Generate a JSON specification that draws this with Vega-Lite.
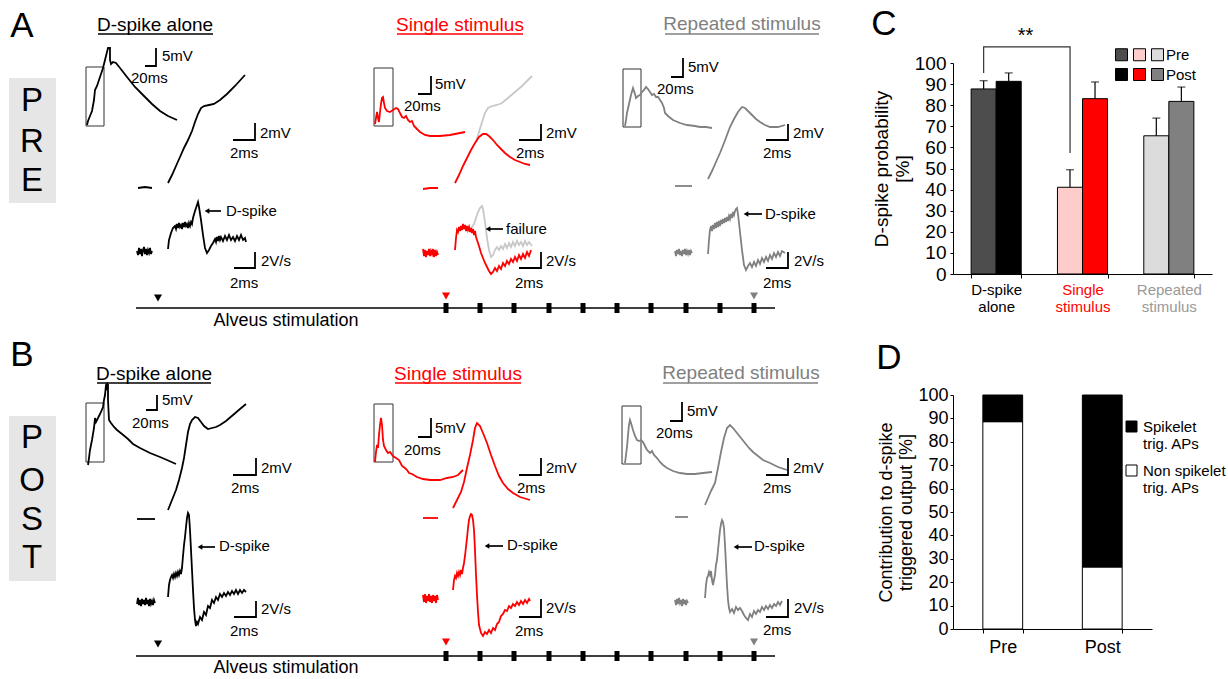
{
"$schema": "https://vega.github.io/schema/vega-lite/v6.json",
"padding": 0,
"background": "white",
"bounds": "flush",
"spacing": 103,
"resolve": {"scale": {"color": "independent"}, "legend": {"color": "independent"}},
"config": {
  "view": {"stroke": null},
  "font": "Liberation Sans",
  "text": {"font": "Liberation Sans"},
  "axis": {"labelFont": "Liberation Sans", "titleFont": "Liberation Sans", "labelColor": "black", "titleColor": "black"},
  "legend": {"labelFont": "Liberation Sans", "labelColor": "black"}
},
"datasets": {
"bg": [{"x":9,"y":78,"x2":56,"y2":203},{"x":9,"y":416,"x2":56,"y2":581}],
"bx": [{"x":86,"y":67,"x2":104,"y2":126},{"x":374,"y":68,"x2":393,"y2":126},{"x":623,"y":69,"x2":641,"y2":127},{"x":86,"y":403,"x2":104,"y2":462},{"x":374,"y":404,"x2":393,"y2":462},{"x":622,"y":406,"x2":641,"y2":464}],
"ru": [
{"x":98,"x2":213,"y":34,"c":"k"},{"x":397,"x2":523,"y":34,"c":"r"},{"x":665,"x2":819,"y":34,"c":"g"},
{"x":97,"x2":211,"y":383,"c":"k"},{"x":395,"x2":521,"y":383,"c":"r"},{"x":663,"x2":818,"y":383,"c":"g"},
{"x":208,"x2":221,"y":211,"c":"k"},{"x":489,"x2":503,"y":229,"c":"k"},{"x":747,"x2":762,"y":214,"c":"k"},
{"x":201,"x2":215,"y":547,"c":"k"},{"x":488,"x2":503,"y":546,"c":"k"},{"x":737,"x2":752,"y":547,"c":"k"},
{"x":136,"x2":775,"y":308,"c":"k"},{"x":136,"x2":775,"y":656,"c":"k"}],
"pt": [
{"k":"stim","x":446,"y":308,"c":"k"},{"k":"stim","x":480,"y":308,"c":"k"},{"k":"stim","x":514,"y":308,"c":"k"},{"k":"stim","x":549,"y":308,"c":"k"},{"k":"stim","x":583,"y":308,"c":"k"},{"k":"stim","x":617,"y":308,"c":"k"},{"k":"stim","x":651,"y":308,"c":"k"},{"k":"stim","x":686,"y":308,"c":"k"},{"k":"stim","x":720,"y":308,"c":"k"},{"k":"stim","x":754,"y":308,"c":"k"},
{"k":"stim","x":446,"y":656,"c":"k"},{"k":"stim","x":480,"y":656,"c":"k"},{"k":"stim","x":514,"y":656,"c":"k"},{"k":"stim","x":549,"y":656,"c":"k"},{"k":"stim","x":583,"y":656,"c":"k"},{"k":"stim","x":617,"y":656,"c":"k"},{"k":"stim","x":651,"y":656,"c":"k"},{"k":"stim","x":686,"y":656,"c":"k"},{"k":"stim","x":720,"y":656,"c":"k"},{"k":"stim","x":754,"y":656,"c":"k"},
{"k":"down","x":158,"y":298,"c":"k"},{"k":"down","x":446,"y":296,"c":"r"},{"k":"down","x":754,"y":296,"c":"g"},
{"k":"down","x":158,"y":644,"c":"k"},{"k":"down","x":446,"y":642,"c":"r"},{"k":"down","x":754,"y":642,"c":"g"},
{"k":"left","x":207,"y":211,"c":"k"},{"k":"left","x":488,"y":229,"c":"k"},{"k":"left","x":746,"y":214,"c":"k"},
{"k":"left","x":200,"y":547,"c":"k"},{"k":"left","x":487,"y":546,"c":"k"},{"k":"left","x":736,"y":547,"c":"k"}],
"tx": [
{"k":"panel","t":"A","x":22,"y":26,"c":"k"},{"k":"panel","t":"B","x":22,"y":355,"c":"k"},{"k":"panel","t":"C","x":884,"y":24,"c":"k"},{"k":"panel","t":"D","x":889,"y":358,"c":"k"},
{"k":"pre","t":"P","x":32,"y":101,"c":"k"},{"k":"pre","t":"R","x":32,"y":142,"c":"k"},{"k":"pre","t":"E","x":32,"y":181,"c":"k"},
{"k":"pre","t":"P","x":32,"y":438,"c":"k"},{"k":"pre","t":"O","x":32,"y":481,"c":"k"},{"k":"pre","t":"S","x":32,"y":520,"c":"k"},{"k":"pre","t":"T","x":32,"y":558,"c":"k"},
{"k":"title","t":"D-spike alone","x":155,"y":25,"c":"k"},{"k":"title","t":"Single stimulus","x":460,"y":25,"c":"r"},{"k":"title","t":"Repeated stimulus","x":742,"y":24,"c":"g"},
{"k":"title","t":"D-spike alone","x":154,"y":374,"c":"k"},{"k":"title","t":"Single stimulus","x":458,"y":374,"c":"r"},{"k":"title","t":"Repeated stimulus","x":741,"y":373,"c":"g"},
{"k":"small","t":"5mV","x":162,"y":56,"c":"k"},{"k":"small","t":"20ms","x":131,"y":78,"c":"k"},{"k":"small","t":"2mV","x":260,"y":133,"c":"k"},{"k":"small","t":"2ms","x":230,"y":153,"c":"k"},{"k":"small","t":"2V/s","x":261,"y":261,"c":"k"},{"k":"small","t":"2ms","x":230,"y":283,"c":"k"},{"k":"small","t":"D-spike","x":226,"y":211,"c":"k"},
{"k":"small","t":"5mV","x":435,"y":84,"c":"k"},{"k":"small","t":"20ms","x":404,"y":106,"c":"k"},{"k":"small","t":"2mV","x":546,"y":133,"c":"k"},{"k":"small","t":"2ms","x":516,"y":153,"c":"k"},{"k":"small","t":"failure","x":506,"y":229,"c":"k"},{"k":"small","t":"2V/s","x":546,"y":261,"c":"k"},{"k":"small","t":"2ms","x":515,"y":283,"c":"k"},
{"k":"small","t":"5mV","x":688,"y":67,"c":"k"},{"k":"small","t":"20ms","x":657,"y":89,"c":"k"},{"k":"small","t":"2mV","x":793,"y":133,"c":"k"},{"k":"small","t":"2ms","x":763,"y":153,"c":"k"},{"k":"small","t":"D-spike","x":765,"y":214,"c":"k"},{"k":"small","t":"2V/s","x":794,"y":261,"c":"k"},{"k":"small","t":"2ms","x":763,"y":283,"c":"k"},
{"k":"small","t":"5mV","x":162,"y":400,"c":"k"},{"k":"small","t":"20ms","x":132,"y":423,"c":"k"},{"k":"small","t":"2mV","x":261,"y":468,"c":"k"},{"k":"small","t":"2ms","x":231,"y":488,"c":"k"},{"k":"small","t":"D-spike","x":219,"y":546,"c":"k"},{"k":"small","t":"2V/s","x":261,"y":609,"c":"k"},{"k":"small","t":"2ms","x":230,"y":631,"c":"k"},
{"k":"small","t":"5mV","x":435,"y":428,"c":"k"},{"k":"small","t":"20ms","x":404,"y":450,"c":"k"},{"k":"small","t":"2mV","x":546,"y":468,"c":"k"},{"k":"small","t":"2ms","x":517,"y":488,"c":"k"},{"k":"small","t":"D-spike","x":507,"y":545,"c":"k"},{"k":"small","t":"2V/s","x":546,"y":608,"c":"k"},{"k":"small","t":"2ms","x":515,"y":631,"c":"k"},
{"k":"small","t":"5mV","x":687,"y":411,"c":"k"},{"k":"small","t":"20ms","x":656,"y":433,"c":"k"},{"k":"small","t":"2mV","x":793,"y":468,"c":"k"},{"k":"small","t":"2ms","x":763,"y":488,"c":"k"},{"k":"small","t":"D-spike","x":754,"y":546,"c":"k"},{"k":"small","t":"2V/s","x":794,"y":608,"c":"k"},{"k":"small","t":"2ms","x":763,"y":630,"c":"k"},
{"k":"stimtxt","t":"Alveus stimulation","x":286,"y":321,"c":"k"},{"k":"stimtxt","t":"Alveus stimulation","x":286,"y":668,"c":"k"}],
"tr": [
{"id":"sb1","c":"k","x":145,"y":66},{"id":"sb1","c":"k","x":156,"y":66},{"id":"sb1","c":"k","x":156,"y":48},
{"id":"sb2","c":"k","x":233,"y":140},{"id":"sb2","c":"k","x":255,"y":140},{"id":"sb2","c":"k","x":255,"y":123},
{"id":"sb3","c":"k","x":234,"y":268},{"id":"sb3","c":"k","x":255,"y":268},{"id":"sb3","c":"k","x":255,"y":252},
{"id":"sb4","c":"k","x":418,"y":94},{"id":"sb4","c":"k","x":431,"y":94},{"id":"sb4","c":"k","x":431,"y":76},
{"id":"sb5","c":"k","x":519,"y":140},{"id":"sb5","c":"k","x":541,"y":140},{"id":"sb5","c":"k","x":541,"y":124},
{"id":"sb6","c":"k","x":519,"y":268},{"id":"sb6","c":"k","x":541,"y":268},{"id":"sb6","c":"k","x":541,"y":252},
{"id":"sb7","c":"k","x":671,"y":77},{"id":"sb7","c":"k","x":683,"y":77},{"id":"sb7","c":"k","x":683,"y":58},
{"id":"sb8","c":"k","x":766,"y":140},{"id":"sb8","c":"k","x":788,"y":140},{"id":"sb8","c":"k","x":788,"y":124},
{"id":"sb9","c":"k","x":766,"y":268},{"id":"sb9","c":"k","x":788,"y":268},{"id":"sb9","c":"k","x":788,"y":252},
{"id":"sb10","c":"k","x":146,"y":410},{"id":"sb10","c":"k","x":157,"y":410},{"id":"sb10","c":"k","x":157,"y":395},
{"id":"sb11","c":"k","x":233,"y":475},{"id":"sb11","c":"k","x":256,"y":475},{"id":"sb11","c":"k","x":256,"y":458},
{"id":"sb12","c":"k","x":234,"y":617},{"id":"sb12","c":"k","x":256,"y":617},{"id":"sb12","c":"k","x":256,"y":601},
{"id":"sb13","c":"k","x":418,"y":437},{"id":"sb13","c":"k","x":431,"y":437},{"id":"sb13","c":"k","x":431,"y":418},
{"id":"sb14","c":"k","x":519,"y":475},{"id":"sb14","c":"k","x":541,"y":475},{"id":"sb14","c":"k","x":541,"y":458},
{"id":"sb15","c":"k","x":519,"y":617},{"id":"sb15","c":"k","x":541,"y":617},{"id":"sb15","c":"k","x":541,"y":599},
{"id":"sb16","c":"k","x":670,"y":421},{"id":"sb16","c":"k","x":682,"y":421},{"id":"sb16","c":"k","x":682,"y":402},
{"id":"sb17","c":"k","x":766,"y":475},{"id":"sb17","c":"k","x":788,"y":475},{"id":"sb17","c":"k","x":788,"y":458},
{"id":"sb18","c":"k","x":766,"y":617},{"id":"sb18","c":"k","x":788,"y":617},{"id":"sb18","c":"k","x":788,"y":599},
{"id":"a1s","c":"k","x":87,"y":125},{"id":"a1s","c":"k","x":88,"y":121},{"id":"a1s","c":"k","x":90,"y":116},{"id":"a1s","c":"k","x":92,"y":111},{"id":"a1s","c":"k","x":94,"y":100},{"id":"a1s","c":"k","x":95,"y":90},{"id":"a1s","c":"k","x":97,"y":86},{"id":"a1s","c":"k","x":100,"y":77},{"id":"a1s","c":"k","x":103,"y":68},{"id":"a1s","c":"k","x":105,"y":60},{"id":"a1s","c":"k","x":107,"y":52},{"id":"a1s","c":"k","x":108,"y":48},{"id":"a1s","c":"k","x":110,"y":48},{"id":"a1s","c":"k","x":110,"y":60},{"id":"a1s","c":"k","x":111,"y":64},{"id":"a1s","c":"k","x":113,"y":62},{"id":"a1s","c":"k","x":116,"y":63},{"id":"a1s","c":"k","x":120,"y":68},{"id":"a1s","c":"k","x":127,"y":77},{"id":"a1s","c":"k","x":135,"y":87},{"id":"a1s","c":"k","x":143,"y":95},{"id":"a1s","c":"k","x":152,"y":104},{"id":"a1s","c":"k","x":160,"y":111},{"id":"a1s","c":"k","x":168,"y":116},{"id":"a1s","c":"k","x":177,"y":120},
{"id":"a1f0","c":"k","x":138,"y":188},{"id":"a1f0","c":"k","x":145,"y":187},{"id":"a1f0","c":"k","x":152,"y":188},
{"id":"a1f","c":"k","x":168,"y":183},{"id":"a1f","c":"k","x":172,"y":175},{"id":"a1f","c":"k","x":176,"y":166},{"id":"a1f","c":"k","x":180,"y":157},{"id":"a1f","c":"k","x":184,"y":148},{"id":"a1f","c":"k","x":188,"y":140},{"id":"a1f","c":"k","x":192,"y":131},{"id":"a1f","c":"k","x":195,"y":122},{"id":"a1f","c":"k","x":198,"y":114},{"id":"a1f","c":"k","x":201,"y":108},{"id":"a1f","c":"k","x":204,"y":106},{"id":"a1f","c":"k","x":209,"y":105},{"id":"a1f","c":"k","x":214,"y":104},{"id":"a1f","c":"k","x":220,"y":100},{"id":"a1f","c":"k","x":227,"y":94},{"id":"a1f","c":"k","x":235,"y":86},{"id":"a1f","c":"k","x":245,"y":75},
{"id":"a1d0","c":"k","x":137,"y":251},{"id":"a1d0","c":"k","x":138,"y":255},{"id":"a1d0","c":"k","x":139,"y":248},{"id":"a1d0","c":"k","x":140,"y":254},{"id":"a1d0","c":"k","x":141,"y":249},{"id":"a1d0","c":"k","x":142,"y":256},{"id":"a1d0","c":"k","x":143,"y":250},{"id":"a1d0","c":"k","x":144,"y":247},{"id":"a1d0","c":"k","x":145,"y":254},{"id":"a1d0","c":"k","x":146,"y":249},{"id":"a1d0","c":"k","x":147,"y":255},{"id":"a1d0","c":"k","x":148,"y":250},{"id":"a1d0","c":"k","x":149,"y":253},{"id":"a1d0","c":"k","x":150,"y":248},{"id":"a1d0","c":"k","x":151,"y":254},{"id":"a1d0","c":"k","x":152,"y":251},
{"id":"a1d","c":"k","x":168,"y":249},{"id":"a1d","c":"k","x":169,"y":240},{"id":"a1d","c":"k","x":171,"y":233},{"id":"a1d","c":"k","x":173,"y":228},{"id":"a1d","c":"k","x":175,"y":226},{"id":"a1d","c":"k","x":176,"y":229},{"id":"a1d","c":"k","x":177,"y":224},{"id":"a1d","c":"k","x":178,"y":228},{"id":"a1d","c":"k","x":179,"y":223},{"id":"a1d","c":"k","x":180,"y":227},{"id":"a1d","c":"k","x":181,"y":225},{"id":"a1d","c":"k","x":182,"y":229},{"id":"a1d","c":"k","x":183,"y":223},{"id":"a1d","c":"k","x":184,"y":227},{"id":"a1d","c":"k","x":185,"y":222},{"id":"a1d","c":"k","x":186,"y":226},{"id":"a1d","c":"k","x":187,"y":224},{"id":"a1d","c":"k","x":188,"y":228},{"id":"a1d","c":"k","x":189,"y":223},{"id":"a1d","c":"k","x":190,"y":226},{"id":"a1d","c":"k","x":191,"y":222},{"id":"a1d","c":"k","x":192,"y":224},{"id":"a1d","c":"k","x":193,"y":218},{"id":"a1d","c":"k","x":195,"y":211},{"id":"a1d","c":"k","x":197,"y":205},{"id":"a1d","c":"k","x":198,"y":202},{"id":"a1d","c":"k","x":199,"y":207},{"id":"a1d","c":"k","x":201,"y":220},{"id":"a1d","c":"k","x":203,"y":235},{"id":"a1d","c":"k","x":205,"y":248},{"id":"a1d","c":"k","x":207,"y":253},{"id":"a1d","c":"k","x":209,"y":250},{"id":"a1d","c":"k","x":211,"y":246},{"id":"a1d","c":"k","x":213,"y":243},{"id":"a1d","c":"k","x":215,"y":239},{"id":"a1d","c":"k","x":216,"y":242},{"id":"a1d","c":"k","x":217,"y":237},{"id":"a1d","c":"k","x":218,"y":241},{"id":"a1d","c":"k","x":219,"y":236},{"id":"a1d","c":"k","x":220,"y":240},{"id":"a1d","c":"k","x":221,"y":237},{"id":"a1d","c":"k","x":223,"y":241},{"id":"a1d","c":"k","x":225,"y":236},{"id":"a1d","c":"k","x":227,"y":240},{"id":"a1d","c":"k","x":229,"y":235},{"id":"a1d","c":"k","x":231,"y":240},{"id":"a1d","c":"k","x":233,"y":237},{"id":"a1d","c":"k","x":235,"y":241},{"id":"a1d","c":"k","x":237,"y":236},{"id":"a1d","c":"k","x":239,"y":240},{"id":"a1d","c":"k","x":241,"y":235},{"id":"a1d","c":"k","x":243,"y":240},{"id":"a1d","c":"k","x":245,"y":238},{"id":"a1d","c":"k","x":246,"y":242},
{"id":"a2s","c":"r","x":375,"y":124},{"id":"a2s","c":"r","x":376,"y":118},{"id":"a2s","c":"r","x":377,"y":112},{"id":"a2s","c":"r","x":378,"y":118},{"id":"a2s","c":"r","x":379,"y":122},{"id":"a2s","c":"r","x":380,"y":112},{"id":"a2s","c":"r","x":381,"y":104},{"id":"a2s","c":"r","x":382,"y":98},{"id":"a2s","c":"r","x":383,"y":97},{"id":"a2s","c":"r","x":384,"y":103},{"id":"a2s","c":"r","x":385,"y":108},{"id":"a2s","c":"r","x":387,"y":111},{"id":"a2s","c":"r","x":390,"y":112},{"id":"a2s","c":"r","x":393,"y":110},{"id":"a2s","c":"r","x":396,"y":108},{"id":"a2s","c":"r","x":398,"y":109},{"id":"a2s","c":"r","x":400,"y":113},{"id":"a2s","c":"r","x":402,"y":117},{"id":"a2s","c":"r","x":404,"y":118},{"id":"a2s","c":"r","x":406,"y":116},{"id":"a2s","c":"r","x":408,"y":120},{"id":"a2s","c":"r","x":410,"y":122},{"id":"a2s","c":"r","x":412,"y":121},{"id":"a2s","c":"r","x":414,"y":126},{"id":"a2s","c":"r","x":417,"y":129},{"id":"a2s","c":"r","x":420,"y":132},{"id":"a2s","c":"r","x":425,"y":135},{"id":"a2s","c":"r","x":430,"y":136},{"id":"a2s","c":"r","x":440,"y":136},{"id":"a2s","c":"r","x":450,"y":135},{"id":"a2s","c":"r","x":460,"y":133},{"id":"a2s","c":"r","x":465,"y":132},
{"id":"a2f0","c":"r","x":423,"y":189},{"id":"a2f0","c":"r","x":430,"y":188},{"id":"a2f0","c":"r","x":438,"y":188},
{"id":"a2fg","c":"lg","x":476,"y":142},{"id":"a2fg","c":"lg","x":479,"y":132},{"id":"a2fg","c":"lg","x":482,"y":122},{"id":"a2fg","c":"lg","x":485,"y":113},{"id":"a2fg","c":"lg","x":488,"y":108},{"id":"a2fg","c":"lg","x":492,"y":106},{"id":"a2fg","c":"lg","x":497,"y":105},{"id":"a2fg","c":"lg","x":502,"y":103},{"id":"a2fg","c":"lg","x":508,"y":98},{"id":"a2fg","c":"lg","x":515,"y":92},{"id":"a2fg","c":"lg","x":522,"y":86},{"id":"a2fg","c":"lg","x":532,"y":76},
{"id":"a2f","c":"r","x":455,"y":183},{"id":"a2f","c":"r","x":459,"y":175},{"id":"a2f","c":"r","x":463,"y":166},{"id":"a2f","c":"r","x":467,"y":158},{"id":"a2f","c":"r","x":471,"y":150},{"id":"a2f","c":"r","x":475,"y":143},{"id":"a2f","c":"r","x":479,"y":137},{"id":"a2f","c":"r","x":483,"y":134},{"id":"a2f","c":"r","x":486,"y":134},{"id":"a2f","c":"r","x":489,"y":136},{"id":"a2f","c":"r","x":493,"y":140},{"id":"a2f","c":"r","x":497,"y":145},{"id":"a2f","c":"r","x":501,"y":149},{"id":"a2f","c":"r","x":505,"y":153},{"id":"a2f","c":"r","x":510,"y":157},{"id":"a2f","c":"r","x":515,"y":160},{"id":"a2f","c":"r","x":520,"y":162},{"id":"a2f","c":"r","x":525,"y":164},{"id":"a2f","c":"r","x":530,"y":165},
{"id":"a2dg","c":"lg","x":470,"y":230},{"id":"a2dg","c":"lg","x":472,"y":227},{"id":"a2dg","c":"lg","x":474,"y":224},{"id":"a2dg","c":"lg","x":476,"y":218},{"id":"a2dg","c":"lg","x":478,"y":212},{"id":"a2dg","c":"lg","x":480,"y":208},{"id":"a2dg","c":"lg","x":482,"y":206},{"id":"a2dg","c":"lg","x":483,"y":209},{"id":"a2dg","c":"lg","x":485,"y":222},{"id":"a2dg","c":"lg","x":487,"y":238},{"id":"a2dg","c":"lg","x":489,"y":250},{"id":"a2dg","c":"lg","x":491,"y":257},{"id":"a2dg","c":"lg","x":493,"y":255},{"id":"a2dg","c":"lg","x":495,"y":250},{"id":"a2dg","c":"lg","x":497,"y":247},{"id":"a2dg","c":"lg","x":499,"y":250},{"id":"a2dg","c":"lg","x":501,"y":246},{"id":"a2dg","c":"lg","x":503,"y":249},{"id":"a2dg","c":"lg","x":505,"y":244},{"id":"a2dg","c":"lg","x":507,"y":248},{"id":"a2dg","c":"lg","x":509,"y":243},{"id":"a2dg","c":"lg","x":511,"y":247},{"id":"a2dg","c":"lg","x":513,"y":242},{"id":"a2dg","c":"lg","x":515,"y":246},{"id":"a2dg","c":"lg","x":517,"y":241},{"id":"a2dg","c":"lg","x":519,"y":245},{"id":"a2dg","c":"lg","x":521,"y":242},{"id":"a2dg","c":"lg","x":523,"y":246},{"id":"a2dg","c":"lg","x":525,"y":241},{"id":"a2dg","c":"lg","x":527,"y":245},{"id":"a2dg","c":"lg","x":529,"y":242},{"id":"a2dg","c":"lg","x":532,"y":246},
{"id":"a2d0","c":"r","x":423,"y":249},{"id":"a2d0","c":"r","x":424,"y":256},{"id":"a2d0","c":"r","x":425,"y":250},{"id":"a2d0","c":"r","x":426,"y":257},{"id":"a2d0","c":"r","x":427,"y":251},{"id":"a2d0","c":"r","x":428,"y":255},{"id":"a2d0","c":"r","x":429,"y":249},{"id":"a2d0","c":"r","x":430,"y":256},{"id":"a2d0","c":"r","x":431,"y":251},{"id":"a2d0","c":"r","x":432,"y":254},{"id":"a2d0","c":"r","x":433,"y":249},{"id":"a2d0","c":"r","x":434,"y":257},{"id":"a2d0","c":"r","x":435,"y":250},{"id":"a2d0","c":"r","x":436,"y":256},{"id":"a2d0","c":"r","x":437,"y":252},{"id":"a2d0","c":"r","x":438,"y":255},
{"id":"a2d","c":"r","x":455,"y":250},{"id":"a2d","c":"r","x":456,"y":238},{"id":"a2d","c":"r","x":457,"y":230},{"id":"a2d","c":"r","x":458,"y":232},{"id":"a2d","c":"r","x":459,"y":227},{"id":"a2d","c":"r","x":460,"y":231},{"id":"a2d","c":"r","x":461,"y":226},{"id":"a2d","c":"r","x":462,"y":230},{"id":"a2d","c":"r","x":463,"y":224},{"id":"a2d","c":"r","x":464,"y":229},{"id":"a2d","c":"r","x":465,"y":225},{"id":"a2d","c":"r","x":466,"y":231},{"id":"a2d","c":"r","x":467,"y":226},{"id":"a2d","c":"r","x":468,"y":230},{"id":"a2d","c":"r","x":469,"y":227},{"id":"a2d","c":"r","x":470,"y":232},{"id":"a2d","c":"r","x":471,"y":228},{"id":"a2d","c":"r","x":472,"y":233},{"id":"a2d","c":"r","x":473,"y":229},{"id":"a2d","c":"r","x":474,"y":235},{"id":"a2d","c":"r","x":475,"y":231},{"id":"a2d","c":"r","x":476,"y":237},{"id":"a2d","c":"r","x":477,"y":240},{"id":"a2d","c":"r","x":479,"y":246},{"id":"a2d","c":"r","x":481,"y":253},{"id":"a2d","c":"r","x":483,"y":258},{"id":"a2d","c":"r","x":485,"y":263},{"id":"a2d","c":"r","x":487,"y":267},{"id":"a2d","c":"r","x":489,"y":271},{"id":"a2d","c":"r","x":491,"y":274},{"id":"a2d","c":"r","x":493,"y":272},{"id":"a2d","c":"r","x":495,"y":268},{"id":"a2d","c":"r","x":497,"y":271},{"id":"a2d","c":"r","x":499,"y":266},{"id":"a2d","c":"r","x":501,"y":269},{"id":"a2d","c":"r","x":503,"y":263},{"id":"a2d","c":"r","x":505,"y":266},{"id":"a2d","c":"r","x":507,"y":261},{"id":"a2d","c":"r","x":509,"y":264},{"id":"a2d","c":"r","x":511,"y":259},{"id":"a2d","c":"r","x":513,"y":262},{"id":"a2d","c":"r","x":515,"y":257},{"id":"a2d","c":"r","x":517,"y":261},{"id":"a2d","c":"r","x":519,"y":255},{"id":"a2d","c":"r","x":521,"y":259},{"id":"a2d","c":"r","x":523,"y":254},{"id":"a2d","c":"r","x":525,"y":258},{"id":"a2d","c":"r","x":527,"y":252},{"id":"a2d","c":"r","x":529,"y":256},{"id":"a2d","c":"r","x":531,"y":250},
{"id":"a3s","c":"g","x":625,"y":126},{"id":"a3s","c":"g","x":626,"y":120},{"id":"a3s","c":"g","x":627,"y":113},{"id":"a3s","c":"g","x":629,"y":104},{"id":"a3s","c":"g","x":631,"y":95},{"id":"a3s","c":"g","x":633,"y":88},{"id":"a3s","c":"g","x":635,"y":94},{"id":"a3s","c":"g","x":636,"y":98},{"id":"a3s","c":"g","x":638,"y":96},{"id":"a3s","c":"g","x":640,"y":95},{"id":"a3s","c":"g","x":642,"y":92},{"id":"a3s","c":"g","x":644,"y":90},{"id":"a3s","c":"g","x":646,"y":87},{"id":"a3s","c":"g","x":648,"y":89},{"id":"a3s","c":"g","x":650,"y":92},{"id":"a3s","c":"g","x":652,"y":95},{"id":"a3s","c":"g","x":654,"y":94},{"id":"a3s","c":"g","x":656,"y":97},{"id":"a3s","c":"g","x":658,"y":97},{"id":"a3s","c":"g","x":660,"y":100},{"id":"a3s","c":"g","x":662,"y":103},{"id":"a3s","c":"g","x":664,"y":108},{"id":"a3s","c":"g","x":665,"y":113},{"id":"a3s","c":"g","x":668,"y":116},{"id":"a3s","c":"g","x":673,"y":120},{"id":"a3s","c":"g","x":680,"y":123},{"id":"a3s","c":"g","x":687,"y":125},{"id":"a3s","c":"g","x":695,"y":126},{"id":"a3s","c":"g","x":700,"y":127},{"id":"a3s","c":"g","x":706,"y":127},{"id":"a3s","c":"g","x":712,"y":128},
{"id":"a3f0","c":"g","x":675,"y":186},{"id":"a3f0","c":"g","x":692,"y":186},
{"id":"a3f","c":"g","x":708,"y":179},{"id":"a3f","c":"g","x":712,"y":171},{"id":"a3f","c":"g","x":716,"y":162},{"id":"a3f","c":"g","x":720,"y":153},{"id":"a3f","c":"g","x":724,"y":143},{"id":"a3f","c":"g","x":727,"y":135},{"id":"a3f","c":"g","x":730,"y":127},{"id":"a3f","c":"g","x":734,"y":119},{"id":"a3f","c":"g","x":738,"y":112},{"id":"a3f","c":"g","x":742,"y":107},{"id":"a3f","c":"g","x":745,"y":108},{"id":"a3f","c":"g","x":748,"y":111},{"id":"a3f","c":"g","x":752,"y":115},{"id":"a3f","c":"g","x":756,"y":119},{"id":"a3f","c":"g","x":760,"y":122},{"id":"a3f","c":"g","x":765,"y":125},{"id":"a3f","c":"g","x":770,"y":127},{"id":"a3f","c":"g","x":778,"y":127},{"id":"a3f","c":"g","x":785,"y":125},
{"id":"a3d0","c":"g","x":675,"y":251},{"id":"a3d0","c":"g","x":676,"y":256},{"id":"a3d0","c":"g","x":677,"y":250},{"id":"a3d0","c":"g","x":678,"y":254},{"id":"a3d0","c":"g","x":679,"y":249},{"id":"a3d0","c":"g","x":680,"y":255},{"id":"a3d0","c":"g","x":681,"y":251},{"id":"a3d0","c":"g","x":682,"y":256},{"id":"a3d0","c":"g","x":683,"y":250},{"id":"a3d0","c":"g","x":684,"y":254},{"id":"a3d0","c":"g","x":685,"y":249},{"id":"a3d0","c":"g","x":686,"y":255},{"id":"a3d0","c":"g","x":687,"y":251},{"id":"a3d0","c":"g","x":688,"y":254},{"id":"a3d0","c":"g","x":689,"y":250},{"id":"a3d0","c":"g","x":690,"y":255},{"id":"a3d0","c":"g","x":691,"y":251},{"id":"a3d0","c":"g","x":692,"y":253},
{"id":"a3d","c":"g","x":708,"y":254},{"id":"a3d","c":"g","x":709,"y":240},{"id":"a3d","c":"g","x":710,"y":230},{"id":"a3d","c":"g","x":711,"y":226},{"id":"a3d","c":"g","x":712,"y":231},{"id":"a3d","c":"g","x":713,"y":225},{"id":"a3d","c":"g","x":714,"y":229},{"id":"a3d","c":"g","x":715,"y":223},{"id":"a3d","c":"g","x":716,"y":228},{"id":"a3d","c":"g","x":717,"y":222},{"id":"a3d","c":"g","x":718,"y":227},{"id":"a3d","c":"g","x":719,"y":221},{"id":"a3d","c":"g","x":720,"y":226},{"id":"a3d","c":"g","x":721,"y":220},{"id":"a3d","c":"g","x":722,"y":224},{"id":"a3d","c":"g","x":723,"y":219},{"id":"a3d","c":"g","x":724,"y":223},{"id":"a3d","c":"g","x":725,"y":218},{"id":"a3d","c":"g","x":726,"y":222},{"id":"a3d","c":"g","x":727,"y":217},{"id":"a3d","c":"g","x":728,"y":221},{"id":"a3d","c":"g","x":729,"y":216},{"id":"a3d","c":"g","x":730,"y":219},{"id":"a3d","c":"g","x":731,"y":214},{"id":"a3d","c":"g","x":732,"y":218},{"id":"a3d","c":"g","x":733,"y":212},{"id":"a3d","c":"g","x":734,"y":215},{"id":"a3d","c":"g","x":735,"y":211},{"id":"a3d","c":"g","x":736,"y":209},{"id":"a3d","c":"g","x":737,"y":208},{"id":"a3d","c":"g","x":738,"y":214},{"id":"a3d","c":"g","x":740,"y":232},{"id":"a3d","c":"g","x":742,"y":250},{"id":"a3d","c":"g","x":744,"y":265},{"id":"a3d","c":"g","x":746,"y":270},{"id":"a3d","c":"g","x":748,"y":266},{"id":"a3d","c":"g","x":750,"y":263},{"id":"a3d","c":"g","x":752,"y":267},{"id":"a3d","c":"g","x":754,"y":262},{"id":"a3d","c":"g","x":756,"y":266},{"id":"a3d","c":"g","x":758,"y":260},{"id":"a3d","c":"g","x":760,"y":264},{"id":"a3d","c":"g","x":762,"y":258},{"id":"a3d","c":"g","x":764,"y":262},{"id":"a3d","c":"g","x":766,"y":257},{"id":"a3d","c":"g","x":768,"y":261},{"id":"a3d","c":"g","x":770,"y":255},{"id":"a3d","c":"g","x":772,"y":259},{"id":"a3d","c":"g","x":774,"y":253},{"id":"a3d","c":"g","x":776,"y":257},{"id":"a3d","c":"g","x":778,"y":252},{"id":"a3d","c":"g","x":780,"y":256},{"id":"a3d","c":"g","x":782,"y":251},{"id":"a3d","c":"g","x":785,"y":253},
{"id":"b1s","c":"k","x":88,"y":465},{"id":"b1s","c":"k","x":89,"y":458},{"id":"b1s","c":"k","x":90,"y":450},{"id":"b1s","c":"k","x":92,"y":440},{"id":"b1s","c":"k","x":94,"y":428},{"id":"b1s","c":"k","x":95,"y":418},{"id":"b1s","c":"k","x":96,"y":422},{"id":"b1s","c":"k","x":97,"y":420},{"id":"b1s","c":"k","x":99,"y":416},{"id":"b1s","c":"k","x":101,"y":412},{"id":"b1s","c":"k","x":103,"y":407},{"id":"b1s","c":"k","x":104,"y":400},{"id":"b1s","c":"k","x":105,"y":395},{"id":"b1s","c":"k","x":106,"y":385},{"id":"b1s","c":"k","x":107,"y":384},{"id":"b1s","c":"k","x":107,"y":390},{"id":"b1s","c":"k","x":108,"y":384},{"id":"b1s","c":"k","x":108,"y":400},{"id":"b1s","c":"k","x":109,"y":420},{"id":"b1s","c":"k","x":111,"y":423},{"id":"b1s","c":"k","x":114,"y":427},{"id":"b1s","c":"k","x":117,"y":430},{"id":"b1s","c":"k","x":122,"y":434},{"id":"b1s","c":"k","x":128,"y":439},{"id":"b1s","c":"k","x":133,"y":444},{"id":"b1s","c":"k","x":140,"y":448},{"id":"b1s","c":"k","x":150,"y":453},{"id":"b1s","c":"k","x":160,"y":457},{"id":"b1s","c":"k","x":167,"y":460},{"id":"b1s","c":"k","x":176,"y":464},
{"id":"b1f0","c":"k","x":137,"y":519},{"id":"b1f0","c":"k","x":155,"y":519},
{"id":"b1f","c":"k","x":168,"y":510},{"id":"b1f","c":"k","x":172,"y":500},{"id":"b1f","c":"k","x":176,"y":490},{"id":"b1f","c":"k","x":179,"y":480},{"id":"b1f","c":"k","x":182,"y":468},{"id":"b1f","c":"k","x":184,"y":458},{"id":"b1f","c":"k","x":186,"y":445},{"id":"b1f","c":"k","x":188,"y":432},{"id":"b1f","c":"k","x":190,"y":424},{"id":"b1f","c":"k","x":192,"y":420},{"id":"b1f","c":"k","x":195,"y":417},{"id":"b1f","c":"k","x":198,"y":418},{"id":"b1f","c":"k","x":201,"y":422},{"id":"b1f","c":"k","x":204,"y":426},{"id":"b1f","c":"k","x":208,"y":429},{"id":"b1f","c":"k","x":212,"y":428},{"id":"b1f","c":"k","x":216,"y":427},{"id":"b1f","c":"k","x":220,"y":425},{"id":"b1f","c":"k","x":226,"y":421},{"id":"b1f","c":"k","x":233,"y":415},{"id":"b1f","c":"k","x":240,"y":409},{"id":"b1f","c":"k","x":246,"y":404},
{"id":"b1d0","c":"k","x":137,"y":604},{"id":"b1d0","c":"k","x":138,"y":598},{"id":"b1d0","c":"k","x":139,"y":605},{"id":"b1d0","c":"k","x":140,"y":600},{"id":"b1d0","c":"k","x":141,"y":606},{"id":"b1d0","c":"k","x":142,"y":599},{"id":"b1d0","c":"k","x":143,"y":604},{"id":"b1d0","c":"k","x":144,"y":600},{"id":"b1d0","c":"k","x":145,"y":605},{"id":"b1d0","c":"k","x":146,"y":598},{"id":"b1d0","c":"k","x":147,"y":604},{"id":"b1d0","c":"k","x":148,"y":600},{"id":"b1d0","c":"k","x":149,"y":606},{"id":"b1d0","c":"k","x":150,"y":599},{"id":"b1d0","c":"k","x":151,"y":604},{"id":"b1d0","c":"k","x":152,"y":601},{"id":"b1d0","c":"k","x":153,"y":605},{"id":"b1d0","c":"k","x":154,"y":600},{"id":"b1d0","c":"k","x":155,"y":603},
{"id":"b1d","c":"k","x":168,"y":597},{"id":"b1d","c":"k","x":169,"y":585},{"id":"b1d","c":"k","x":170,"y":580},{"id":"b1d","c":"k","x":171,"y":577},{"id":"b1d","c":"k","x":172,"y":575},{"id":"b1d","c":"k","x":173,"y":578},{"id":"b1d","c":"k","x":174,"y":574},{"id":"b1d","c":"k","x":175,"y":577},{"id":"b1d","c":"k","x":176,"y":573},{"id":"b1d","c":"k","x":177,"y":576},{"id":"b1d","c":"k","x":178,"y":572},{"id":"b1d","c":"k","x":179,"y":575},{"id":"b1d","c":"k","x":180,"y":571},{"id":"b1d","c":"k","x":181,"y":574},{"id":"b1d","c":"k","x":182,"y":568},{"id":"b1d","c":"k","x":183,"y":556},{"id":"b1d","c":"k","x":184,"y":545},{"id":"b1d","c":"k","x":185,"y":537},{"id":"b1d","c":"k","x":186,"y":527},{"id":"b1d","c":"k","x":187,"y":518},{"id":"b1d","c":"k","x":188,"y":513},{"id":"b1d","c":"k","x":189,"y":515},{"id":"b1d","c":"k","x":190,"y":530},{"id":"b1d","c":"k","x":191,"y":550},{"id":"b1d","c":"k","x":192,"y":570},{"id":"b1d","c":"k","x":193,"y":590},{"id":"b1d","c":"k","x":194,"y":608},{"id":"b1d","c":"k","x":195,"y":620},{"id":"b1d","c":"k","x":196,"y":626},{"id":"b1d","c":"k","x":197,"y":622},{"id":"b1d","c":"k","x":198,"y":624},{"id":"b1d","c":"k","x":200,"y":617},{"id":"b1d","c":"k","x":202,"y":620},{"id":"b1d","c":"k","x":204,"y":612},{"id":"b1d","c":"k","x":206,"y":615},{"id":"b1d","c":"k","x":208,"y":606},{"id":"b1d","c":"k","x":210,"y":608},{"id":"b1d","c":"k","x":212,"y":600},{"id":"b1d","c":"k","x":214,"y":603},{"id":"b1d","c":"k","x":216,"y":597},{"id":"b1d","c":"k","x":218,"y":600},{"id":"b1d","c":"k","x":220,"y":594},{"id":"b1d","c":"k","x":222,"y":597},{"id":"b1d","c":"k","x":224,"y":593},{"id":"b1d","c":"k","x":226,"y":596},{"id":"b1d","c":"k","x":228,"y":592},{"id":"b1d","c":"k","x":230,"y":595},{"id":"b1d","c":"k","x":232,"y":591},{"id":"b1d","c":"k","x":234,"y":594},{"id":"b1d","c":"k","x":236,"y":590},{"id":"b1d","c":"k","x":238,"y":594},{"id":"b1d","c":"k","x":240,"y":590},{"id":"b1d","c":"k","x":242,"y":593},{"id":"b1d","c":"k","x":244,"y":590},{"id":"b1d","c":"k","x":246,"y":592},
{"id":"b2s","c":"r","x":375,"y":462},{"id":"b2s","c":"r","x":376,"y":452},{"id":"b2s","c":"r","x":377,"y":445},{"id":"b2s","c":"r","x":378,"y":448},{"id":"b2s","c":"r","x":379,"y":435},{"id":"b2s","c":"r","x":380,"y":425},{"id":"b2s","c":"r","x":381,"y":418},{"id":"b2s","c":"r","x":382,"y":425},{"id":"b2s","c":"r","x":383,"y":440},{"id":"b2s","c":"r","x":384,"y":446},{"id":"b2s","c":"r","x":386,"y":450},{"id":"b2s","c":"r","x":388,"y":453},{"id":"b2s","c":"r","x":390,"y":452},{"id":"b2s","c":"r","x":393,"y":456},{"id":"b2s","c":"r","x":396,"y":458},{"id":"b2s","c":"r","x":399,"y":460},{"id":"b2s","c":"r","x":402,"y":466},{"id":"b2s","c":"r","x":405,"y":468},{"id":"b2s","c":"r","x":407,"y":470},{"id":"b2s","c":"r","x":409,"y":473},{"id":"b2s","c":"r","x":412,"y":474},{"id":"b2s","c":"r","x":417,"y":477},{"id":"b2s","c":"r","x":423,"y":479},{"id":"b2s","c":"r","x":430,"y":480},{"id":"b2s","c":"r","x":440,"y":480},{"id":"b2s","c":"r","x":447,"y":478},{"id":"b2s","c":"r","x":453,"y":477},{"id":"b2s","c":"r","x":458,"y":475},{"id":"b2s","c":"r","x":463,"y":470},
{"id":"b2f0","c":"r","x":423,"y":518},{"id":"b2f0","c":"r","x":438,"y":518},
{"id":"b2f","c":"r","x":453,"y":508},{"id":"b2f","c":"r","x":457,"y":500},{"id":"b2f","c":"r","x":461,"y":492},{"id":"b2f","c":"r","x":464,"y":482},{"id":"b2f","c":"r","x":467,"y":468},{"id":"b2f","c":"r","x":470,"y":455},{"id":"b2f","c":"r","x":473,"y":440},{"id":"b2f","c":"r","x":475,"y":428},{"id":"b2f","c":"r","x":477,"y":423},{"id":"b2f","c":"r","x":480,"y":426},{"id":"b2f","c":"r","x":483,"y":433},{"id":"b2f","c":"r","x":487,"y":443},{"id":"b2f","c":"r","x":491,"y":455},{"id":"b2f","c":"r","x":495,"y":466},{"id":"b2f","c":"r","x":499,"y":476},{"id":"b2f","c":"r","x":503,"y":483},{"id":"b2f","c":"r","x":508,"y":489},{"id":"b2f","c":"r","x":513,"y":493},{"id":"b2f","c":"r","x":520,"y":497},{"id":"b2f","c":"r","x":530,"y":500},
{"id":"b2d0","c":"r","x":423,"y":595},{"id":"b2d0","c":"r","x":424,"y":602},{"id":"b2d0","c":"r","x":425,"y":594},{"id":"b2d0","c":"r","x":426,"y":603},{"id":"b2d0","c":"r","x":427,"y":596},{"id":"b2d0","c":"r","x":428,"y":601},{"id":"b2d0","c":"r","x":429,"y":594},{"id":"b2d0","c":"r","x":430,"y":602},{"id":"b2d0","c":"r","x":431,"y":596},{"id":"b2d0","c":"r","x":432,"y":603},{"id":"b2d0","c":"r","x":433,"y":595},{"id":"b2d0","c":"r","x":434,"y":601},{"id":"b2d0","c":"r","x":435,"y":596},{"id":"b2d0","c":"r","x":436,"y":603},{"id":"b2d0","c":"r","x":437,"y":595},{"id":"b2d0","c":"r","x":438,"y":600},
{"id":"b2d","c":"r","x":453,"y":590},{"id":"b2d","c":"r","x":454,"y":580},{"id":"b2d","c":"r","x":455,"y":576},{"id":"b2d","c":"r","x":456,"y":578},{"id":"b2d","c":"r","x":457,"y":573},{"id":"b2d","c":"r","x":458,"y":576},{"id":"b2d","c":"r","x":459,"y":572},{"id":"b2d","c":"r","x":460,"y":575},{"id":"b2d","c":"r","x":461,"y":570},{"id":"b2d","c":"r","x":462,"y":574},{"id":"b2d","c":"r","x":463,"y":568},{"id":"b2d","c":"r","x":464,"y":563},{"id":"b2d","c":"r","x":465,"y":556},{"id":"b2d","c":"r","x":466,"y":547},{"id":"b2d","c":"r","x":467,"y":538},{"id":"b2d","c":"r","x":468,"y":528},{"id":"b2d","c":"r","x":469,"y":520},{"id":"b2d","c":"r","x":470,"y":516},{"id":"b2d","c":"r","x":471,"y":514},{"id":"b2d","c":"r","x":472,"y":515},{"id":"b2d","c":"r","x":473,"y":520},{"id":"b2d","c":"r","x":474,"y":530},{"id":"b2d","c":"r","x":475,"y":550},{"id":"b2d","c":"r","x":476,"y":575},{"id":"b2d","c":"r","x":477,"y":595},{"id":"b2d","c":"r","x":478,"y":612},{"id":"b2d","c":"r","x":479,"y":625},{"id":"b2d","c":"r","x":481,"y":633},{"id":"b2d","c":"r","x":483,"y":636},{"id":"b2d","c":"r","x":485,"y":632},{"id":"b2d","c":"r","x":487,"y":634},{"id":"b2d","c":"r","x":489,"y":630},{"id":"b2d","c":"r","x":491,"y":633},{"id":"b2d","c":"r","x":493,"y":628},{"id":"b2d","c":"r","x":495,"y":630},{"id":"b2d","c":"r","x":497,"y":624},{"id":"b2d","c":"r","x":499,"y":622},{"id":"b2d","c":"r","x":501,"y":616},{"id":"b2d","c":"r","x":503,"y":614},{"id":"b2d","c":"r","x":505,"y":610},{"id":"b2d","c":"r","x":507,"y":611},{"id":"b2d","c":"r","x":509,"y":606},{"id":"b2d","c":"r","x":511,"y":608},{"id":"b2d","c":"r","x":513,"y":604},{"id":"b2d","c":"r","x":515,"y":606},{"id":"b2d","c":"r","x":517,"y":602},{"id":"b2d","c":"r","x":519,"y":605},{"id":"b2d","c":"r","x":521,"y":601},{"id":"b2d","c":"r","x":523,"y":604},{"id":"b2d","c":"r","x":525,"y":600},{"id":"b2d","c":"r","x":527,"y":603},{"id":"b2d","c":"r","x":529,"y":599},{"id":"b2d","c":"r","x":530,"y":601},
{"id":"b3s","c":"g","x":625,"y":463},{"id":"b3s","c":"g","x":626,"y":455},{"id":"b3s","c":"g","x":627,"y":447},{"id":"b3s","c":"g","x":628,"y":435},{"id":"b3s","c":"g","x":629,"y":425},{"id":"b3s","c":"g","x":630,"y":420},{"id":"b3s","c":"g","x":631,"y":423},{"id":"b3s","c":"g","x":633,"y":430},{"id":"b3s","c":"g","x":635,"y":436},{"id":"b3s","c":"g","x":637,"y":440},{"id":"b3s","c":"g","x":639,"y":441},{"id":"b3s","c":"g","x":641,"y":440},{"id":"b3s","c":"g","x":643,"y":442},{"id":"b3s","c":"g","x":645,"y":446},{"id":"b3s","c":"g","x":647,"y":450},{"id":"b3s","c":"g","x":650,"y":453},{"id":"b3s","c":"g","x":652,"y":451},{"id":"b3s","c":"g","x":654,"y":455},{"id":"b3s","c":"g","x":657,"y":458},{"id":"b3s","c":"g","x":660,"y":462},{"id":"b3s","c":"g","x":663,"y":465},{"id":"b3s","c":"g","x":667,"y":468},{"id":"b3s","c":"g","x":673,"y":471},{"id":"b3s","c":"g","x":680,"y":473},{"id":"b3s","c":"g","x":687,"y":474},{"id":"b3s","c":"g","x":695,"y":474},{"id":"b3s","c":"g","x":703,"y":473},{"id":"b3s","c":"g","x":712,"y":472},
{"id":"b3f0","c":"g","x":675,"y":517},{"id":"b3f0","c":"g","x":688,"y":517},
{"id":"b3f","c":"g","x":705,"y":505},{"id":"b3f","c":"g","x":708,"y":498},{"id":"b3f","c":"g","x":711,"y":491},{"id":"b3f","c":"g","x":715,"y":483},{"id":"b3f","c":"g","x":718,"y":468},{"id":"b3f","c":"g","x":721,"y":452},{"id":"b3f","c":"g","x":724,"y":438},{"id":"b3f","c":"g","x":727,"y":428},{"id":"b3f","c":"g","x":730,"y":425},{"id":"b3f","c":"g","x":733,"y":428},{"id":"b3f","c":"g","x":737,"y":433},{"id":"b3f","c":"g","x":741,"y":438},{"id":"b3f","c":"g","x":745,"y":443},{"id":"b3f","c":"g","x":749,"y":448},{"id":"b3f","c":"g","x":753,"y":452},{"id":"b3f","c":"g","x":758,"y":456},{"id":"b3f","c":"g","x":763,"y":460},{"id":"b3f","c":"g","x":770,"y":463},{"id":"b3f","c":"g","x":778,"y":467},{"id":"b3f","c":"g","x":787,"y":470},
{"id":"b3d0","c":"g","x":675,"y":600},{"id":"b3d0","c":"g","x":676,"y":605},{"id":"b3d0","c":"g","x":677,"y":599},{"id":"b3d0","c":"g","x":678,"y":604},{"id":"b3d0","c":"g","x":679,"y":598},{"id":"b3d0","c":"g","x":680,"y":603},{"id":"b3d0","c":"g","x":681,"y":600},{"id":"b3d0","c":"g","x":682,"y":606},{"id":"b3d0","c":"g","x":683,"y":599},{"id":"b3d0","c":"g","x":684,"y":604},{"id":"b3d0","c":"g","x":685,"y":600},{"id":"b3d0","c":"g","x":686,"y":605},{"id":"b3d0","c":"g","x":687,"y":601},{"id":"b3d0","c":"g","x":688,"y":603},
{"id":"b3d","c":"g","x":705,"y":598},{"id":"b3d","c":"g","x":706,"y":585},{"id":"b3d","c":"g","x":707,"y":578},{"id":"b3d","c":"g","x":708,"y":576},{"id":"b3d","c":"g","x":709,"y":572},{"id":"b3d","c":"g","x":710,"y":575},{"id":"b3d","c":"g","x":711,"y":571},{"id":"b3d","c":"g","x":712,"y":580},{"id":"b3d","c":"g","x":713,"y":585},{"id":"b3d","c":"g","x":714,"y":580},{"id":"b3d","c":"g","x":715,"y":575},{"id":"b3d","c":"g","x":716,"y":565},{"id":"b3d","c":"g","x":717,"y":560},{"id":"b3d","c":"g","x":718,"y":550},{"id":"b3d","c":"g","x":719,"y":540},{"id":"b3d","c":"g","x":720,"y":530},{"id":"b3d","c":"g","x":721,"y":524},{"id":"b3d","c":"g","x":722,"y":520},{"id":"b3d","c":"g","x":723,"y":522},{"id":"b3d","c":"g","x":724,"y":528},{"id":"b3d","c":"g","x":725,"y":545},{"id":"b3d","c":"g","x":726,"y":565},{"id":"b3d","c":"g","x":727,"y":585},{"id":"b3d","c":"g","x":728,"y":600},{"id":"b3d","c":"g","x":729,"y":608},{"id":"b3d","c":"g","x":730,"y":612},{"id":"b3d","c":"g","x":732,"y":609},{"id":"b3d","c":"g","x":734,"y":613},{"id":"b3d","c":"g","x":736,"y":607},{"id":"b3d","c":"g","x":738,"y":610},{"id":"b3d","c":"g","x":740,"y":608},{"id":"b3d","c":"g","x":742,"y":611},{"id":"b3d","c":"g","x":744,"y":615},{"id":"b3d","c":"g","x":746,"y":618},{"id":"b3d","c":"g","x":748,"y":620},{"id":"b3d","c":"g","x":750,"y":614},{"id":"b3d","c":"g","x":752,"y":617},{"id":"b3d","c":"g","x":754,"y":611},{"id":"b3d","c":"g","x":756,"y":614},{"id":"b3d","c":"g","x":758,"y":610},{"id":"b3d","c":"g","x":760,"y":612},{"id":"b3d","c":"g","x":762,"y":607},{"id":"b3d","c":"g","x":764,"y":610},{"id":"b3d","c":"g","x":766,"y":606},{"id":"b3d","c":"g","x":768,"y":609},{"id":"b3d","c":"g","x":770,"y":605},{"id":"b3d","c":"g","x":772,"y":608},{"id":"b3d","c":"g","x":774,"y":604},{"id":"b3d","c":"g","x":776,"y":606},{"id":"b3d","c":"g","x":778,"y":602},{"id":"b3d","c":"g","x":780,"y":605},{"id":"b3d","c":"g","x":782,"y":601}
],
"cbars": [
{"group":"D-spike alone","cond":"Pre","key":"D-spike alone Pre","value":87.7,"hi":91.6},
{"group":"D-spike alone","cond":"Post","key":"D-spike alone Post","value":91.3,"hi":95.3},
{"group":"Single stimulus","cond":"Pre","key":"Single stimulus Pre","value":41.1,"hi":49.4},
{"group":"Single stimulus","cond":"Post","key":"Single stimulus Post","value":83.1,"hi":91.0},
{"group":"Repeated stimulus","cond":"Pre","key":"Repeated stimulus Pre","value":65.5,"hi":73.9},
{"group":"Repeated stimulus","cond":"Post","key":"Repeated stimulus Post","value":81.8,"hi":88.6}],
"bracket": [{"bx":0.355,"value":95.3},{"bx":0.355,"value":107.6},{"bx":1.356,"value":107.6},{"bx":1.356,"value":57.3}],
"stars": [{"bx":0.84,"value":113,"t":"**"}],
"dbars": [
{"g":"Pre","type":"Non spikelet trig. APs","v":88.6,"o":1},
{"g":"Pre","type":"Spikelet trig. APs","v":11.4,"o":2},
{"g":"Post","type":"Non spikelet trig. APs","v":26.5,"o":1},
{"g":"Post","type":"Spikelet trig. APs","v":73.5,"o":2}]
},
"hconcat": [
{
 "width": 850, "height": 679,
 "encoding": {
   "x": {"field":"x","type":"quantitative","scale":{"domain":[0,850],"nice":false,"zero":false},"axis":null},
   "y": {"field":"y","type":"quantitative","scale":{"domain":[0,679],"nice":false,"zero":false,"reverse":true},"axis":null}
 },
 "layer": [
  {"data":{"name":"bg"},"mark":{"type":"rect","fill":"#e6e6e6"},"encoding":{"x2":{"field":"x2"},"y2":{"field":"y2"}}},
  {"data":{"name":"bx"},"mark":{"type":"rect","fill":null,"stroke":"#333333","strokeWidth":1},"encoding":{"x2":{"field":"x2"},"y2":{"field":"y2"}}},
  {"data":{"name":"tr"},"transform":[{"filter":"datum.c == 'lg'"}],"mark":{"type":"line","strokeWidth":1.8},"encoding":{"detail":{"field":"id"},"order":{"value":null},"color":{"field":"c","type":"nominal","scale":{"domain":["k","r","g","lg"],"range":["#000000","#ff0000","#808080","#c8c8c8"]},"legend":null}}},
  {"data":{"name":"tr"},"transform":[{"filter":"datum.c != 'lg'"}],"mark":{"type":"line","strokeWidth":1.8},"encoding":{"detail":{"field":"id"},"order":{"value":null},"color":{"field":"c","type":"nominal","scale":{"domain":["k","r","g","lg"],"range":["#000000","#ff0000","#808080","#c8c8c8"]},"legend":null}}},
  {"data":{"name":"ru"},"mark":{"type":"rule","strokeWidth":1.7},"encoding":{"x2":{"field":"x2"},"color":{"field":"c","type":"nominal","scale":{"domain":["k","r","g","lg"],"range":["#000000","#ff0000","#808080","#c8c8c8"]},"legend":null}}},
  {"data":{"name":"pt"},"transform":[{"filter":"datum.k == 'stim'"}],"mark":{"type":"point","filled":true,"opacity":1,"shape":"M-0.5,-1L0.5,-1L0.5,1L-0.5,1Z","size":100,"color":"black"}},
  {"data":{"name":"pt"},"transform":[{"filter":"datum.k == 'down'"}],"mark":{"type":"point","filled":true,"opacity":1,"shape":"triangle-down","size":65},"encoding":{"color":{"field":"c","type":"nominal","scale":{"domain":["k","r","g","lg"],"range":["#000000","#ff0000","#808080","#c8c8c8"]},"legend":null}}},
  {"data":{"name":"pt"},"transform":[{"filter":"datum.k == 'left'"}],"mark":{"type":"point","filled":true,"opacity":1,"shape":"triangle-left","size":30,"color":"black"}},
  {"data":{"name":"tx"},"transform":[{"filter":"datum.k == 'panel'"}],"mark":{"type":"text","fontSize":35,"align":"center","baseline":"middle","color":"black"},"encoding":{"text":{"field":"t"}}},
  {"data":{"name":"tx"},"transform":[{"filter":"datum.k == 'pre'"}],"mark":{"type":"text","fontSize":33,"align":"center","baseline":"middle","color":"black"},"encoding":{"text":{"field":"t"}}},
  {"data":{"name":"tx"},"transform":[{"filter":"datum.k == 'title'"}],"mark":{"type":"text","fontSize":19,"align":"center","baseline":"middle"},"encoding":{"text":{"field":"t"},"color":{"field":"c","type":"nominal","scale":{"domain":["k","r","g","lg"],"range":["#000000","#ff0000","#808080","#c8c8c8"]},"legend":null}}},
  {"data":{"name":"tx"},"transform":[{"filter":"datum.k == 'small'"}],"mark":{"type":"text","fontSize":15,"align":"left","baseline":"middle","color":"black"},"encoding":{"text":{"field":"t"}}},
  {"data":{"name":"tx"},"transform":[{"filter":"datum.k == 'stimtxt'"}],"mark":{"type":"text","fontSize":18,"align":"center","baseline":"middle","color":"black"},"encoding":{"text":{"field":"t"}}}
 ]
},
{
 "bounds": "flush",
 "spacing": 0,
 "resolve": {"scale": {"color": "independent"}, "legend": {"color": "independent"}},
 "vconcat": [
  {"width": 10, "height": 63, "data": {"values": [{"a": 1}]}, "mark": {"type": "point", "opacity": 0}, "encoding": {}},
  {
   "width": 259, "height": 211,
   "resolve": {"scale": {"x": "independent"}},
   "layer": [
    {
     "data": {"name": "cbars"},
     "encoding": {
       "x": {"field":"group","type":"nominal","sort":["D-spike alone","Single stimulus","Repeated stimulus"],"scale":{"paddingInner":0.42,"paddingOuter":0.21},
             "axis":{"title":null,"labelAngle":0,"labelFontSize":15,"labelExpr":"split(datum.label, ' ')","labelLineHeight":17,"labelColor":{"condition":[{"test":"datum.value == 'Single stimulus'","value":"#ff0000"},{"test":"datum.value == 'Repeated stimulus'","value":"#999999"}],"value":"#000000"},"tickBand":"extent","tickSize":4,"labelPadding":4,"domainColor":"black","tickColor":"black"}},
       "xOffset": {"field":"cond","type":"nominal","sort":["Pre","Post"],"scale":{"paddingInner":0,"paddingOuter":0}},
       "y": {"field":"value","type":"quantitative","scale":{"domain":[0,100],"nice":false},
             "axis":{"title":["D-spike probability","[%]"],"titleFontSize":19,"titleFontWeight":"normal","titlePadding":2,"values":[0,10,20,30,40,50,60,70,80,90,100],"labelFontSize":19,"tickSize":3,"labelPadding":4,"grid":false,"domainColor":"black","tickColor":"black"}}
     },
     "layer": [
       {"mark":{"type":"bar","stroke":"black","strokeWidth":1},
        "encoding":{"color":{"field":"key","type":"nominal",
          "scale":{"domain":["D-spike alone Pre","D-spike alone Post","Single stimulus Pre","Single stimulus Post","Repeated stimulus Pre","Repeated stimulus Post"],"range":["#4d4d4d","#000000","#ffcccc","#ff0000","#dcdcdc","#808080"]},
          "legend":{"orient":"none","legendX":161,"legendY":-16,"title":null,"columns":3,"symbolType":"square","symbolSize":144,"symbolStrokeColor":"black","symbolStrokeWidth":1,"symbolOpacity":1,"labelFontSize":15,"labelExpr":"datum.label == 'Repeated stimulus Pre' ? '\u00a0Pre' : datum.label == 'Repeated stimulus Post' ? '\u00a0Post' : ''","labelOffset":1,"columnPadding":1,"rowPadding":3,"padding":0}}}},
       {"mark":{"type":"rule","color":"black","strokeWidth":1.2},"encoding":{"y2":{"field":"hi"}}},
       {"mark":{"type":"tick","color":"black","thickness":1.2,"size":8},
        "encoding":{"y":{"field":"hi","type":"quantitative","scale":{"domain":[0,100],"nice":false},
             "axis":{"title":["D-spike probability","[%]"],"titleFontSize":19,"titleFontWeight":"normal","titlePadding":2,"values":[0,10,20,30,40,50,60,70,80,90,100],"labelFontSize":19,"tickSize":3,"labelPadding":4,"grid":false,"domainColor":"black","tickColor":"black"}}}}
     ]
    },
    {
     "encoding": {
       "x": {"field":"bx","type":"quantitative","scale":{"domain":[0,3],"nice":false,"zero":false},"axis":null},
       "y": {"field":"value","type":"quantitative","scale":{"domain":[0,100],"nice":false},
             "axis":{"title":["D-spike probability","[%]"],"titleFontSize":19,"titleFontWeight":"normal","titlePadding":2,"values":[0,10,20,30,40,50,60,70,80,90,100],"labelFontSize":19,"tickSize":3,"labelPadding":4,"grid":false,"domainColor":"black","tickColor":"black"}}
     },
     "layer": [
       {"data":{"name":"bracket"},"mark":{"type":"line","color":"#333333","strokeWidth":1.2},"encoding":{"order":{"value":null}}},
       {"data":{"name":"stars"},"mark":{"type":"text","fontSize":20,"align":"center","baseline":"middle","color":"black"},"encoding":{"text":{"field":"t"}}}
     ]
    }
   ]
  },
  {"width": 10, "height": 121, "data": {"values": [{"a": 1}]}, "mark": {"type": "point", "opacity": 0}, "encoding": {}},
  {
   "width": 199, "height": 234,
   "data": {"name": "dbars"},
   "mark": {"type":"bar","stroke":"black","strokeWidth":1},
   "encoding": {
     "x": {"field":"g","type":"nominal","sort":["Pre","Post"],"scale":{"paddingInner":0.6,"paddingOuter":0.3},
           "axis":{"title":null,"labelAngle":0,"labelFontSize":18,"tickBand":"extent","tickSize":4,"labelPadding":5,"domainColor":"black","tickColor":"black"}},
     "y": {"field":"v","type":"quantitative","stack":"zero","scale":{"domain":[0,100],"nice":false},
           "axis":{"title":["Contribution to d-spike","triggered output [%]"],"titleFontSize":18,"titleFontWeight":"normal","titlePadding":2,"values":[0,10,20,30,40,50,60,70,80,90,100],"labelFontSize":18,"tickSize":3,"labelPadding":2,"grid":false,"domainColor":"black","tickColor":"black"}},
     "color": {"field":"type","type":"nominal","scale":{"domain":["Spikelet trig. APs","Non spikelet trig. APs"],"range":["#000000","#ffffff"]},
           "legend":{"orient":"none","legendX":171,"legendY":24,"title":null,"symbolType":"square","symbolSize":121,"symbolStrokeColor":"black","symbolStrokeWidth":1,"symbolOpacity":1,"labelFontSize":15,"labelExpr":"datum.label == 'Spikelet trig. APs' ? ['Spikelet','trig. APs'] : ['Non spikelet','trig. APs']","labelOffset":4,"rowPadding":11,"padding":0,"labelLimit":300}},
     "order": {"field":"o","type":"quantitative"}
   }
  }
 ]
}
]
}
